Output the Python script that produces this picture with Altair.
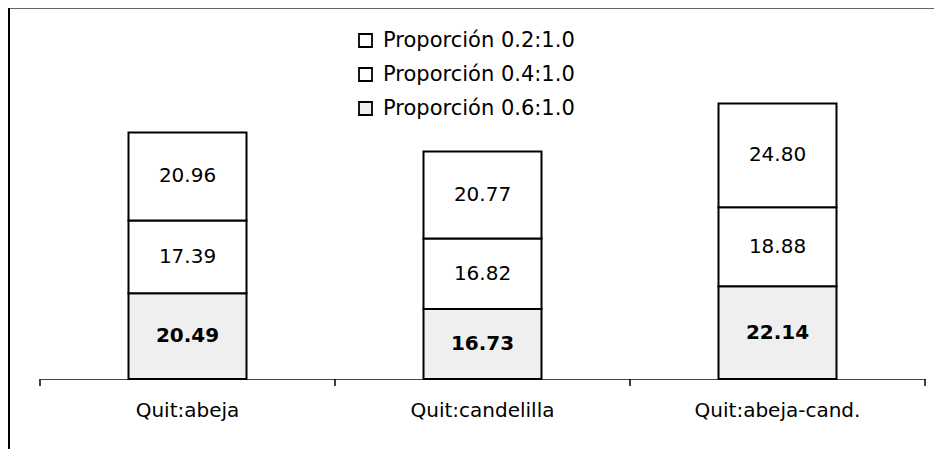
import altair as alt
import pandas as pd

categories = ["Quit:abeja", "Quit:candelilla", "Quit:abeja-cand."]
# series from bottom to top of each stack
series = ["Proporción 0.6:1.0", "Proporción 0.4:1.0", "Proporción 0.2:1.0"]
legend_order = ["Proporción 0.2:1.0", "Proporción 0.4:1.0", "Proporción 0.6:1.0"]
values_06 = [20.49, 16.73, 22.14]
values_04 = [17.39, 16.82, 18.88]
values_02 = [20.96, 20.77, 24.80]

rows = []
for i, c in enumerate(categories):
    base = 0.0
    for k, (s, vals) in enumerate(zip(series, [values_06, values_04, values_02])):
        v = vals[i]
        rows.append({"cat": c, "serie": s, "value": v, "ord": k,
                     "mid": base + v / 2, "label": f"{v:.2f}"})
        base += v
df = pd.DataFrame(rows)

W, H = 885, 371
PAD_L, PAD_R, PAD_B = 32, 9, 70
FONT = "DejaVu Sans"
P_INNER, P_OUTER = 0.6, 0.3
STEP = W / (len(categories) - P_INNER + 2 * P_OUTER)
GAP = P_OUTER * STEP  # distance from band edge to category boundary

xscale = alt.Scale(domain=categories, paddingInner=P_INNER, paddingOuter=P_OUTER)
yscale = alt.Scale(domain=[0, 88.6], nice=False, zero=True)

bars = alt.Chart(df).mark_bar(stroke="black", strokeWidth=2, strokeJoin="miter").encode(
    x=alt.X("cat:N", scale=xscale, sort=categories, title=None,
            axis=alt.Axis(labelFont=FONT, labelFontSize=20, labelColor="black",
                          labelAngle=0, ticks=False, tickSize=0, labelPadding=21,
                          domainColor="#444", domainWidth=1, grid=False)),
    y=alt.Y("value:Q", stack="zero", scale=yscale, axis=None),
    fill=alt.Fill("serie:N",
                  scale=alt.Scale(domain=legend_order, range=["white", "white", "#efefef"]),
                  legend=alt.Legend(title=None, orient="none", legendX=315, legendY=22,
                                    symbolType="square", symbolSize=169,
                                    symbolStrokeColor="black", symbolStrokeWidth=1.8,
                                    labelFont=FONT, labelFontSize=21, labelColor="black",
                                    labelLimit=400, labelOffset=7, rowPadding=12, padding=0)),
    order=alt.Order("ord:Q", sort="ascending"),
)

text_top = alt.Chart(df).transform_filter("datum.ord > 0").mark_text(
    font=FONT, fontSize=20, color="black", fontWeight="normal").encode(
    x=alt.X("cat:N", scale=xscale, sort=categories, title=None),
    y=alt.Y("mid:Q", scale=yscale, axis=None),
    text="label:N",
)
text_bottom = alt.Chart(df).transform_filter("datum.ord == 0").mark_text(
    font=FONT, fontSize=20, color="black", fontWeight="bold").encode(
    x=alt.X("cat:N", scale=xscale, sort=categories, title=None),
    y=alt.Y("mid:Q", scale=yscale, axis=None),
    text="label:N",
)

tick_df = pd.DataFrame({"cat": categories})
ticks = alt.Chart(tick_df).mark_rule(color="black", strokeWidth=1.5, xOffset=-GAP).encode(
    x=alt.X("cat:N", scale=xscale, sort=categories, title=None, bandPosition=0),
    y=alt.value(H), y2=alt.value(H + 7),
)
ticks_end = alt.Chart(pd.DataFrame({"cat": [categories[-1]]})).mark_rule(
    color="black", strokeWidth=1.5, xOffset=GAP).encode(
    x=alt.X("cat:N", scale=xscale, sort=categories, title=None, bandPosition=1),
    y=alt.value(H), y2=alt.value(H + 7),
)

one = pd.DataFrame({"a": [0]})
frame_top = alt.Chart(one).mark_rule(color="#666", strokeWidth=1).encode(
    x=alt.value(-PAD_L), x2=alt.value(W + PAD_R), y=alt.value(0.5))
frame_left = alt.Chart(one).mark_rule(color="black", strokeWidth=2).encode(
    x=alt.value(-PAD_L + 1), y=alt.value(0), y2=alt.value(H + PAD_B))

chart = alt.layer(bars, text_top, text_bottom, ticks, ticks_end, frame_top, frame_left).properties(
    width=W, height=H,
    padding={"left": PAD_L, "top": 0, "right": PAD_R, "bottom": PAD_B},
    autosize=alt.AutoSizeParams(type="none"),
).configure_view(stroke=None)

chart.save("out.html", embed_options={"renderer": "svg", "actions": False})
